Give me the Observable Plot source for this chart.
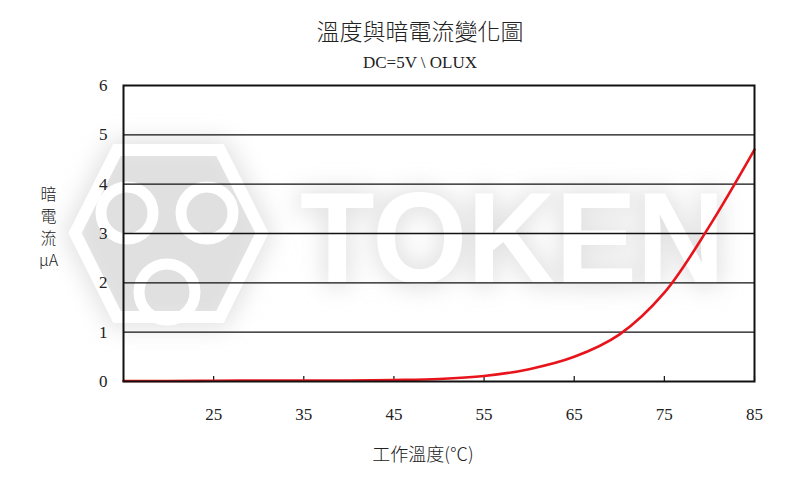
<!DOCTYPE html>
<html><head><meta charset="utf-8">
<script src="https://cdn.jsdelivr.net/npm/d3@7"></script>
<script src="https://cdn.jsdelivr.net/npm/@observablehq/plot@0.6"></script>
<style>
body{margin:0;background:#fff;width:800px;height:482px;overflow:hidden;position:relative;font-family:"Liberation Serif",serif;color:#222}
#head{height:75px;text-align:center;padding-left:40px;box-sizing:border-box;position:relative;z-index:1}
#title{font-family:"Noto Sans CJK TC",sans-serif;font-size:23px;padding-top:15px;line-height:30px;font-weight:300}
#sub{font-size:17px;line-height:20px;margin-top:8px}
#wm{position:absolute;left:0;top:0;z-index:0;pointer-events:none}
#chart{position:relative;z-index:1}
</style>
</head><body>
<svg id="wm" width="800" height="482">
  <defs><filter id="bl" x="-30%" y="-30%" width="160%" height="160%"><feGaussianBlur stdDeviation="12"/></filter></defs>
  <g filter="url(#bl)" fill="#d6d6d6" stroke="#d6d6d6" opacity="0.75">
    <text x="300" y="283" font-family="Liberation Sans" font-weight="bold" font-size="130" textLength="425" lengthAdjust="spacingAndGlyphs" stroke-width="8">TOKEN</text>
    <polygon points="117,150 220,150 262,233 220,317 117,317 75,233" stroke-width="20"/>
  </g>
  <g fill="#fff" stroke="#fff">
    <text x="300" y="283" font-family="Liberation Sans" font-weight="bold" font-size="130" textLength="425" lengthAdjust="spacingAndGlyphs" stroke-width="0">TOKEN</text>
    <polygon points="117,150 220,150 262,233 220,317 117,317 75,233" fill="none" stroke-width="12"/>
    <circle cx="127" cy="213" r="26" fill="none" stroke-width="11"/>
    <circle cx="207" cy="213" r="26" fill="none" stroke-width="11"/>
    <circle cx="167" cy="292" r="28" fill="none" stroke-width="11"/>
  </g>
</svg>
<div id="head"><div id="title">溫度與暗電流變化圖</div><div id="sub">DC=5V \ OLUX</div></div>
<div id="chart"></div>
<script>
const temps = [15, 20, 25, 30, 35, 40, 45, 50, 55, 60, 65, 70, 75, 80, 85];
const current = [0.01, 0.01, 0.015, 0.02, 0.02, 0.02, 0.03, 0.05, 0.11, 0.25, 0.5, 0.95, 1.8, 3.15, 4.7];
const xTicks = [25, 35, 45, 55, 65, 75, 85];
const yTicks = [0, 1, 2, 3, 4, 5, 6];
const gridY = [1, 2, 3, 4, 5];
const yLabelLines = ["暗", "電", "流", "μA"];
const xLabel = "工作溫度(℃)";

const data = temps.map((t, i) => ({t, v: current[i]}));

const yLabelMarks = yLabelLines.map((s, i) =>
  Plot.text([s], {frameAnchor: "left", textAnchor: "middle", dx: -75, dy: -39 + i * 22, fontSize: 16,
    fontFamily: "Noto Sans CJK TC, sans-serif", fontWeight: 300}));

const chart = Plot.plot({
  width: 800,
  height: 407,
  marginTop: 10,
  marginBottom: 101,
  marginLeft: 123,
  marginRight: 46,
  style: {background: "transparent", fontFamily: "Liberation Serif, serif", color: "#222"},
  x: {domain: [15, 85]},
  y: {domain: [0, 6]},
  marks: [
    Plot.ruleY(gridY, {stroke: "#111", strokeWidth: 1.4}),
    Plot.tickX(xTicks, {x: d => d, stroke: "#111", strokeWidth: 1.2, insetTop: 291}),
    Plot.axisY({ticks: yTicks, tickFormat: d3.format("d"), tickSize: 0, tickPadding: 16, fontSize: 17, label: null}),
    Plot.axisX({ticks: xTicks, tickFormat: d3.format("d"), tickSize: 0, tickPadding: 26, fontSize: 17, label: null}),
    ...yLabelMarks,
    Plot.text([xLabel], {frameAnchor: "bottom", dx: -16, dy: 79, fontSize: 18, fontFamily: "Noto Sans CJK TC, sans-serif", fontWeight: 300}),
    Plot.line(data, {x: "t", y: "v", stroke: "#e8141b", strokeWidth: 2.6, curve: "catmull-rom"}),
    Plot.frame({stroke: "#111", strokeWidth: 2})
  ]
});
document.getElementById("chart").appendChild(chart);
</script>
</body></html>
